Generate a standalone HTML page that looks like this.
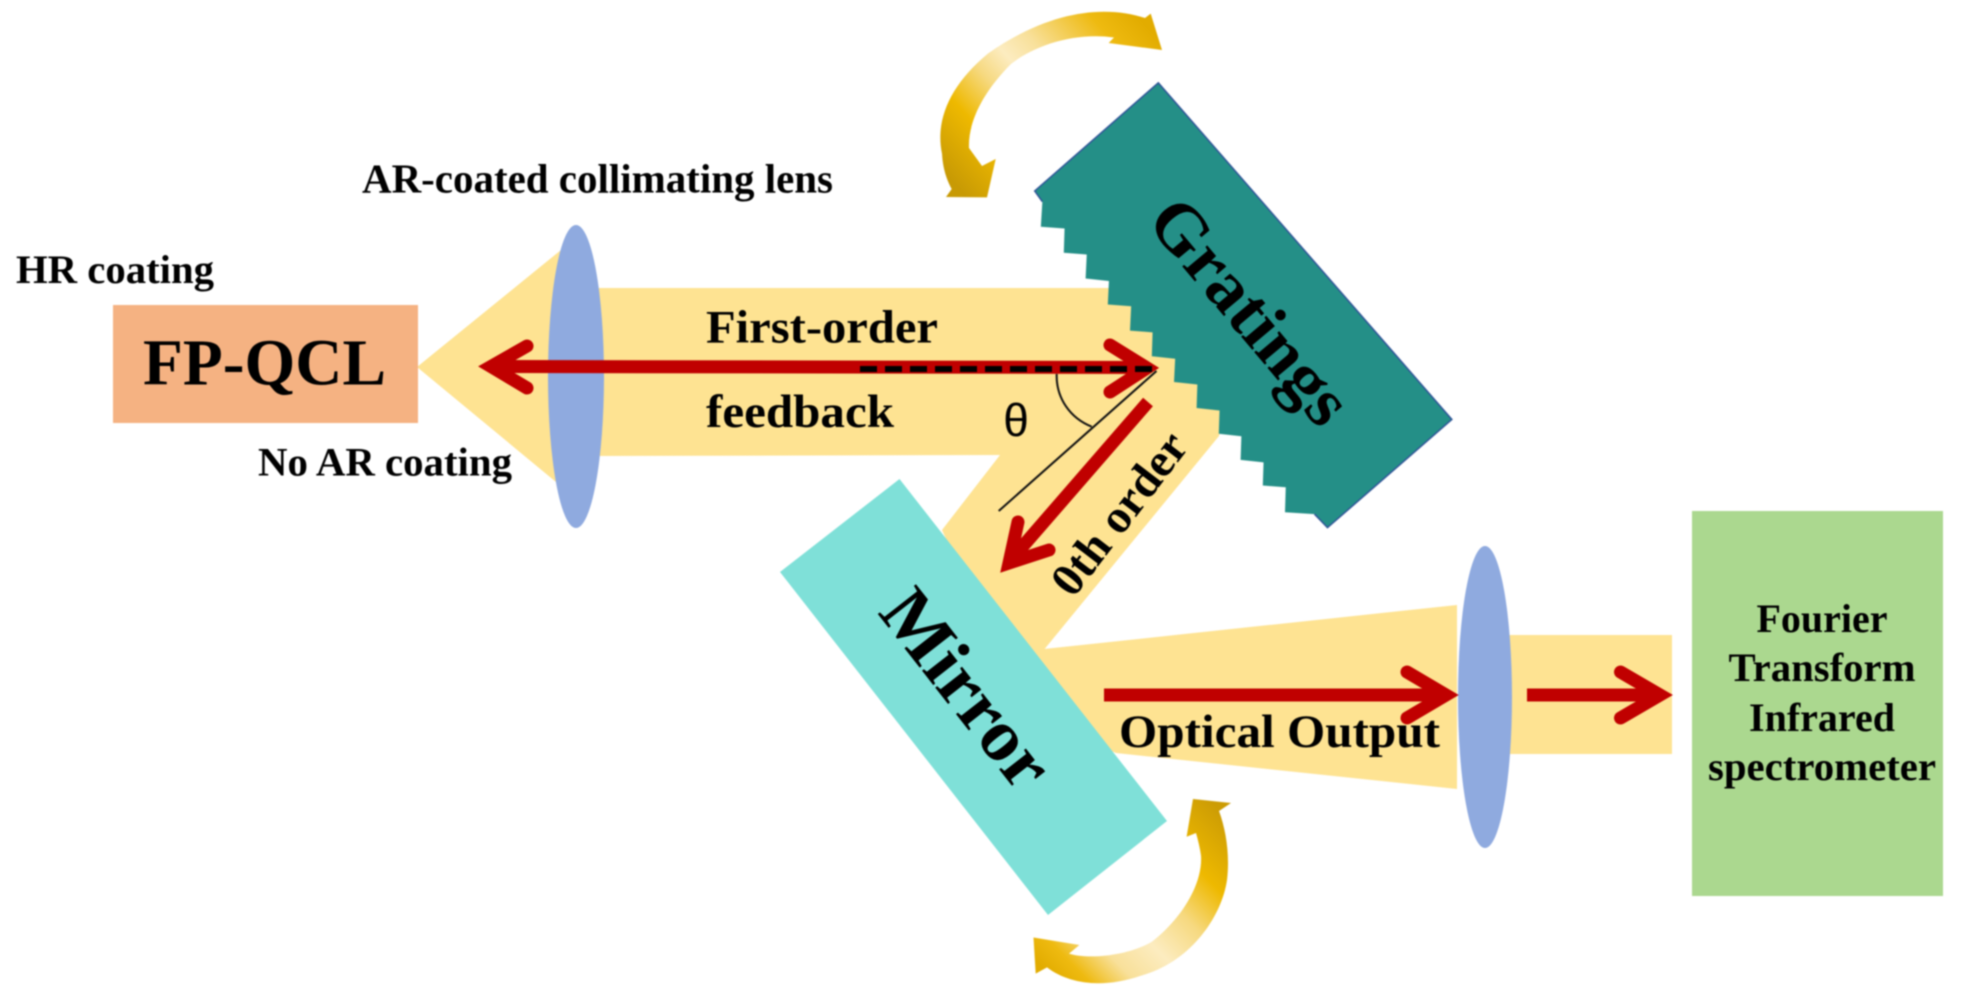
<!DOCTYPE html>
<html>
<head>
<meta charset="utf-8">
<style>
html,body{margin:0;padding:0;background:#fff;width:1962px;height:1000px;overflow:hidden}
svg{display:block;filter:blur(0.7px)}
text{font-family:"Liberation Serif",serif;font-weight:bold;fill:#000}
</style>
</head>
<body>
<svg width="1962" height="1000" viewBox="0 0 1962 1000" xmlns="http://www.w3.org/2000/svg">
<defs>
<linearGradient id="g1" gradientUnits="userSpaceOnUse" x1="1150" y1="30" x2="965" y2="195">
<stop offset="0" stop-color="#e2ac00"/><stop offset=".14" stop-color="#eeba10"/><stop offset=".38" stop-color="#f8e09a"/><stop offset=".5" stop-color="#fcecc0"/><stop offset=".62" stop-color="#f6d980"/><stop offset=".78" stop-color="#eeb900"/><stop offset="1" stop-color="#c89a04"/>
</linearGradient>
<linearGradient id="g2" gradientUnits="userSpaceOnUse" x1="1210" y1="800" x2="1040" y2="965">
<stop offset="0" stop-color="#cc9c04"/><stop offset=".24" stop-color="#eeb900"/><stop offset=".42" stop-color="#f6d980"/><stop offset=".6" stop-color="#fcecc0"/><stop offset=".76" stop-color="#f8e09a"/><stop offset=".9" stop-color="#eeba10"/><stop offset="1" stop-color="#e2ac00"/>
</linearGradient>
</defs>

<!-- beams -->
<g fill="#fee392">
<polygon points="417,367 561,250 580,250 580,482 556,482"/>
<polygon points="590,288 1109,288 1128,292 1228,405 1219,436 1044.6,649 1010,680 942,530 1000,455 590,456"/>
<polygon points="1044,649 1457,605 1457,789 1116,753 1000,700 1000,620"/>
<rect x="1500" y="635" width="172" height="119"/>
</g>

<!-- FP-QCL -->
<rect x="113" y="305" width="305" height="118" fill="#f5b282"/>
<text x="143" y="384.5" font-size="66" textLength="243" lengthAdjust="spacingAndGlyphs">FP-QCL</text>

<!-- lenses -->
<ellipse cx="576" cy="376.5" rx="28" ry="151.5" fill="#8faadf"/>
<ellipse cx="1485" cy="697" rx="27" ry="151" fill="#8faadf"/>

<!-- FTIR -->
<rect x="1692" y="511" width="251" height="385" fill="#abd88f"/>
<g font-size="40" text-anchor="middle">
<text x="1822" y="632">Fourier</text>
<text x="1822" y="681" textLength="187" lengthAdjust="spacingAndGlyphs">Transform</text>
<text x="1822" y="731">Infrared</text>
<text x="1822" y="780" textLength="228" lengthAdjust="spacingAndGlyphs">spectrometer</text>
</g>

<!-- grating -->
<g transform="translate(900,0) scale(.3827,.357)">
<polygon fill="#248f87" points="675,232 1442,1175 1117,1478 1083,1440 1006,1435 1008,1365 948,1360 950,1295 890,1288 892,1222 833,1215 835,1150 775,1143 777,1077 716,1070 719,1005 658,998 660,931 601,926 604,858 543,853 546,787 485,780 488,713 428,708 430,640 368,635 372,565 352,535"/>
<polyline fill="none" stroke="#2f5597" stroke-width="1.5" vector-effect="non-scaling-stroke" points="372,565 352,535 675,232 1442,1175 1117,1478 1083,1440"/>
</g>

<!-- mirror -->
<polygon points="899.5,479 1167,821 1048,915 780,572" fill="#7fe0d8"/>

<!-- labels -->
<text x="362" y="192.5" font-size="41" textLength="471" lengthAdjust="spacingAndGlyphs">AR-coated collimating lens</text>
<text x="16" y="283" font-size="40.5" textLength="198" lengthAdjust="spacingAndGlyphs">HR coating</text>
<text x="258" y="475.5" font-size="40.5" textLength="254" lengthAdjust="spacingAndGlyphs">No AR coating</text>
<text x="706" y="342.5" font-size="47" textLength="232" lengthAdjust="spacingAndGlyphs">First-order</text>
<text x="706" y="427" font-size="47" textLength="188" lengthAdjust="spacingAndGlyphs">feedback</text>
<text x="1119" y="747" font-size="47" textLength="321" lengthAdjust="spacingAndGlyphs">Optical Output</text>
<text transform="translate(1145,222) rotate(50)" font-size="71" textLength="272" lengthAdjust="spacingAndGlyphs">Gratings</text>
<text transform="translate(877,613) rotate(52)" font-size="74" textLength="230" lengthAdjust="spacingAndGlyphs">Mirror</text>
<text transform="translate(1073,599) rotate(-52.5)" font-size="47" textLength="192" lengthAdjust="spacingAndGlyphs">0th order</text>
<text x="1016" y="436" font-size="46" text-anchor="middle" style="font-family:'Liberation Sans',sans-serif;font-weight:normal">θ</text>

<!-- thin lines -->
<g fill="none" stroke="#111" stroke-width="2">
<line x1="1156.5" y1="371" x2="998.7" y2="511"/>
<path d="M1056.7 374 C1056 398 1070 418 1091.7 426.7"/>
</g>

<!-- red arrows -->
<g fill="none" stroke="#c00000" stroke-width="13" stroke-linecap="round" stroke-linejoin="miter">
<line x1="490" y1="366.5" x2="1148" y2="367.5" stroke-linecap="butt"/>
<polyline points="527,346 491,366.5 527,388"/>
<polyline points="1110,345 1147,368 1110,392"/>
<line x1="1104" y1="695" x2="1446" y2="695" stroke-linecap="butt"/>
<polyline points="1407,672 1446,695 1407,718"/>
<line x1="1527" y1="695" x2="1660" y2="695" stroke-linecap="butt"/>
<polyline points="1620.5,672 1660,695 1620.5,718"/>
<line x1="1148" y1="402" x2="1010" y2="561" stroke-linecap="butt"/>
<polyline points="1018,522 1009,563 1049,550"/>
</g>

<!-- dashed -->
<line x1="860" y1="369" x2="1156" y2="369" stroke="#000" stroke-width="6" stroke-dasharray="17 8"/>

<!-- rotation arcs -->
<path fill="url(#g1)" d="M1162 50 L1150.7 13.6 L1145 18 C1105 5 1050 10 988 53.5 C950 85 935 120 942 153.6 C943 170 947 180 951.7 189 L946 197 L987 197.4 L995.7 159 L982 166 L969 148 C968 125 980 95 1011 64 C1035 45 1075 32 1114 37.5 L1108.6 43 Z"/>
<path fill="url(#g2)" d="M1193 799 L1231 803 L1219 811 C1226 830 1230 855 1227 880 C1222 915 1192 962 1140 976 C1105 988 1070 985 1047 967.4 L1035.7 973.6 L1033.5 937.5 L1079.4 945 L1069 953.6 C1090 960 1130 955 1152 941.6 C1180 920 1203 885 1201 855.6 C1200 848 1198 840 1196 833 L1186.6 836.7 Z"/>
</svg>
</body>
</html>
